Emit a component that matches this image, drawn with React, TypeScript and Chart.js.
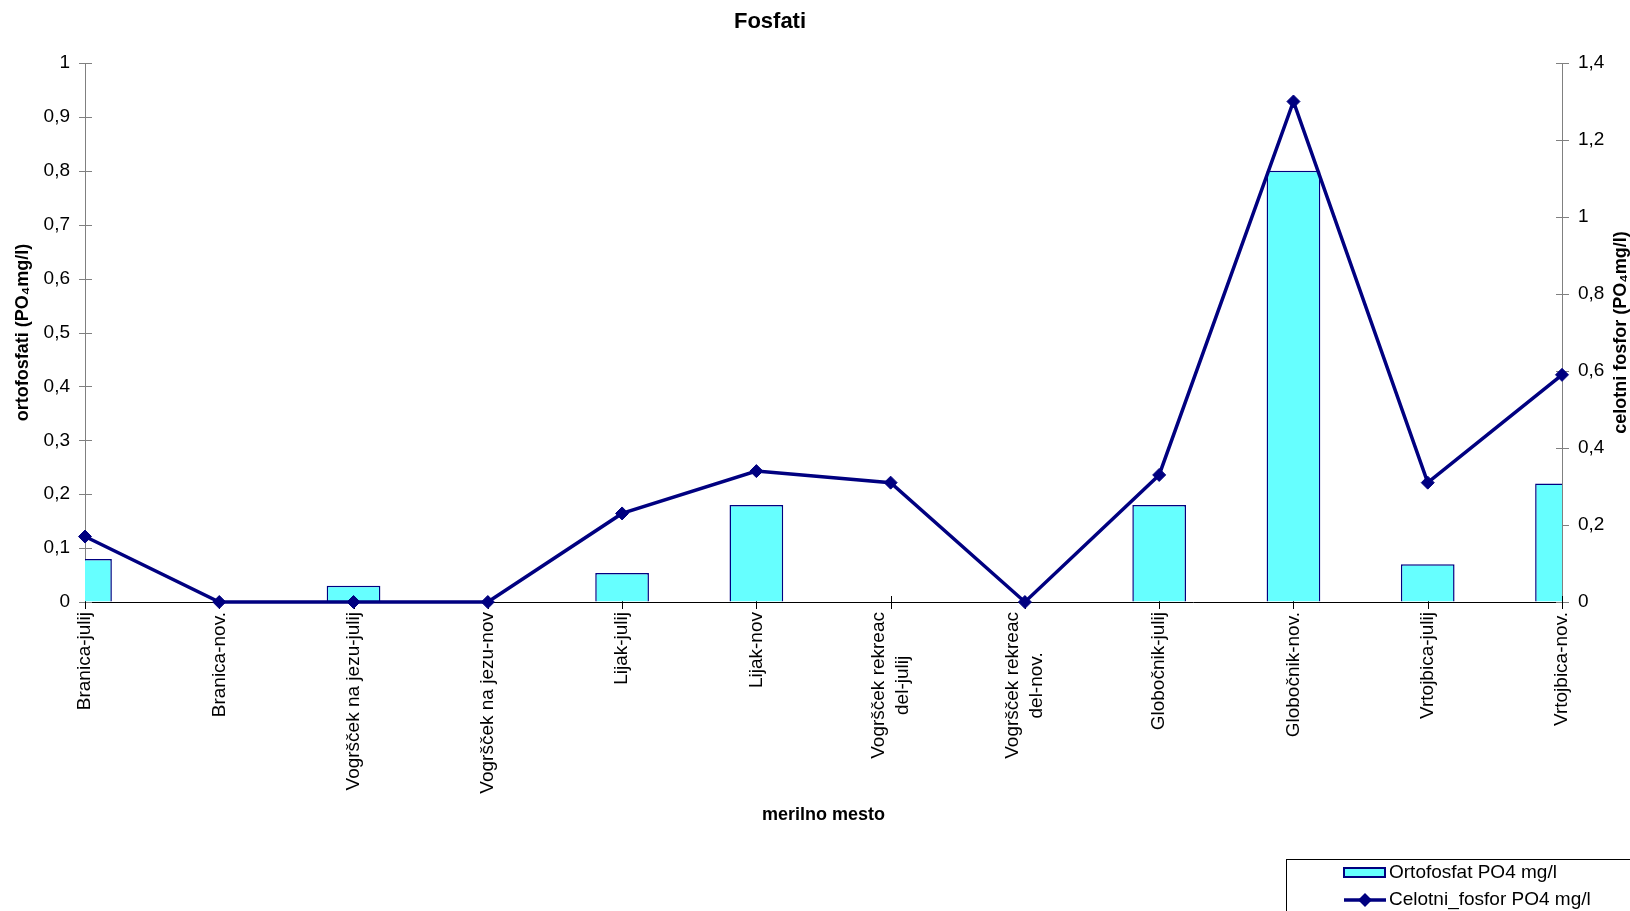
import React, { useEffect, useRef } from "react";
import { Chart, registerables } from "chart.js";

Chart.register(...registerables);

// ---------- data ----------
const categories: string[][] = [
  ["Branica-julij"],
  ["Branica-nov."],
  ["Vogršček na jezu-julij"],
  ["Vogršček na jezu-nov"],
  ["Lijak-julij"],
  ["Lijak-nov"],
  ["Vogršček rekreac", "del-julij"],
  ["Vogršček rekreac", "del-nov."],
  ["Globočnik-julij"],
  ["Globočnik-nov."],
  ["Vrtojbica-julij"],
  ["Vrtojbica-nov."],
];

const ortofosfat: number[] = [0.08, 0, 0.03, 0, 0.054, 0.18, 0, 0, 0.18, 0.8, 0.07, 0.22];
const celotniFosfor: number[] = [0.17, 0, 0, 0, 0.23, 0.34, 0.31, 0, 0.33, 1.3, 0.31, 0.59];

const seriesNames: string[] = ["Ortofosfat PO4 mg/l", "Celotni_fosfor PO4 mg/l"];
const leftAxisRange: number[] = [0, 1, 0.1]; // min, max, step
const rightAxisRange: number[] = [0, 1.4, 0.2];

const chartTitle = "Fosfati";
const xTitle = "merilno mesto";
const leftTitle = "ortofosfati (PO₄mg/l)";
const rightTitle = "celotni fosfor (PO₄mg/l)";

// ---------- styles ----------
const FONT = "'Liberation Sans', Arial, Helvetica, sans-serif";
const NAVY = "#000080";
const CYAN = "#66FFFF";
const GRAY = "#808080";

const fmt = (v: any) => {
  const n = Math.round(Number(v) * 10) / 10;
  return String(n).replace(".", ",");
};

const decorPlugin = {
  id: "decor",
  beforeDatasetsDraw(chart: any) {
    const { ctx, chartArea: a, scales } = chart;
    ctx.save();
    ctx.lineWidth = 1;
    // left axis cross ticks
    ctx.strokeStyle = GRAY;
    for (const t of scales.y.ticks) {
      const py = Math.round(scales.y.getPixelForValue(t.value)) + 0.5;
      ctx.beginPath();
      ctx.moveTo(a.left - 6, py);
      ctx.lineTo(a.left + 7, py);
      ctx.stroke();
    }
    for (const t of scales.y1.ticks) {
      const py = Math.round(scales.y1.getPixelForValue(t.value)) + 0.5;
      ctx.beginPath();
      ctx.moveTo(a.right - 6, py);
      ctx.lineTo(a.right + 7, py);
      ctx.stroke();
    }
    ctx.strokeStyle = "#000";
    const xs = scales.x;
    for (let i = 0; i < chart.data.labels.length; i++) {
      const px = Math.round(xs.getPixelForValue(i)) + 0.5;
      ctx.beginPath();
      ctx.moveTo(px, a.bottom - 6);
      ctx.lineTo(px, a.bottom + 7);
      ctx.stroke();
    }
    ctx.restore();
  },
  afterDraw(chart: any) {
    const { ctx, chartArea: a, scales } = chart;
    ctx.save();
    // chart title
    ctx.fillStyle = "#000";
    ctx.font = `bold 22px ${FONT}`;
    ctx.textAlign = "center";
    ctx.textBaseline = "middle";
    ctx.fillText(chartTitle, 770, 22);

    // category labels
    const xs = scales.x;
    ctx.font = `19px ${FONT}`;
    const lh = 24;
    chart.data.labels.forEach((lab: any, i: number) => {
      const lines: string[] = Array.isArray(lab) ? lab : [lab];
      const px = xs.getPixelForValue(i);
      const maxW = Math.max(...lines.map((l) => ctx.measureText(l).width));
      ctx.save();
      ctx.translate(px, a.bottom + 10);
      ctx.rotate(-Math.PI / 2);
      ctx.textAlign = "center";
      ctx.textBaseline = "middle";
      lines.forEach((l, k) => {
        const off = (k - (lines.length - 1) / 2) * lh;
        ctx.fillText(l, -maxW / 2, off);
      });
      ctx.restore();
    });

    // right axis title (reads bottom to top)
    ctx.save();
    ctx.font = `bold 18px ${FONT}`;
    ctx.translate(1621, (a.top + a.bottom) / 2);
    ctx.rotate(-Math.PI / 2);
    ctx.textAlign = "center";
    ctx.textBaseline = "middle";
    ctx.fillText(rightTitle, 0, 0);
    ctx.restore();

    // legend box
    const ds = chart.data.datasets;
    ctx.strokeStyle = "#000";
    ctx.lineWidth = 1;
    ctx.strokeRect(1286.5, 859.5, 500, 120);
    // item 1: bar swatch
    ctx.fillStyle = ds[0].backgroundColor;
    ctx.fillRect(1344, 868, 41, 9);
    ctx.strokeStyle = ds[0].borderColor;
    ctx.lineWidth = 2;
    ctx.strokeRect(1344, 868, 41, 9);
    ctx.fillStyle = "#000";
    ctx.font = `19px ${FONT}`;
    ctx.textAlign = "left";
    ctx.textBaseline = "middle";
    ctx.fillText(ds[0].label, 1389, 873);
    // item 2: line swatch
    ctx.strokeStyle = ds[1].borderColor;
    ctx.lineWidth = 3.5;
    ctx.beginPath();
    ctx.moveTo(1344, 900);
    ctx.lineTo(1386, 900);
    ctx.stroke();
    ctx.fillStyle = ds[1].pointBackgroundColor;
    const r = 7;
    ctx.beginPath();
    ctx.moveTo(1365 - r, 900);
    ctx.lineTo(1365, 900 - r);
    ctx.lineTo(1365 + r, 900);
    ctx.lineTo(1365, 900 + r);
    ctx.closePath();
    ctx.fill();
    ctx.fillStyle = "#000";
    ctx.fillText(ds[1].label, 1389, 900);
    ctx.restore();
  },
};

export default function App() {
  const canvasRef = useRef<HTMLCanvasElement | null>(null);

  useEffect(() => {
    if (!canvasRef.current) return;
    Chart.defaults.font.family = FONT;
    Chart.defaults.color = "#000";
    const chart = new Chart(canvasRef.current, {
      type: "bar",
      data: {
        labels: categories,
        datasets: [
          {
            type: "bar",
            label: seriesNames[0],
            data: ortofosfat,
            yAxisID: "y",
            backgroundColor: CYAN,
            borderColor: NAVY,
            borderWidth: 1.5,
            barPercentage: 0.4,
            categoryPercentage: 1,
            clip: 0,
            order: 1,
          } as any,
          {
            type: "line",
            label: seriesNames[1],
            data: celotniFosfor,
            yAxisID: "y1",
            borderColor: NAVY,
            backgroundColor: NAVY,
            borderWidth: 3.5,
            tension: 0,
            pointStyle: "rectRot",
            pointRadius: 6.5,
            pointBorderWidth: 1,
            pointBackgroundColor: NAVY,
            pointBorderColor: NAVY,
            clip: false,
            order: 0,
          } as any,
        ],
      },
      options: {
        responsive: false,
        maintainAspectRatio: false,
        animation: false,
        layout: { padding: { top: 63, left: 0, right: 0, bottom: 0 } },
        plugins: {
          legend: { display: false },
          title: { display: false },
          tooltip: { enabled: false },
        },
        scales: {
          x: {
            type: "category",
            offset: false,
            grid: { display: true, drawOnChartArea: false, drawTicks: false },
            border: { display: true, color: "#000", width: 1 },
            ticks: { display: false },
            title: {
              display: true,
              text: xTitle,
              color: "#000",
              font: { size: 18, weight: "bold", family: FONT },
              padding: { top: 0, bottom: 85 },
            },
            afterFit: (s: any) => {
              s.height = 309;
            },
          },
          y: {
            type: "linear",
            position: "left",
            min: leftAxisRange[0],
            max: leftAxisRange[1],
            grid: { display: true, drawOnChartArea: false, drawTicks: false },
            border: { display: true, color: GRAY, width: 1 },
            ticks: {
              stepSize: leftAxisRange[2],
              padding: 15,
              color: "#000",
              font: { size: 19, family: FONT },
              callback: fmt,
            },
            title: {
              display: true,
              text: leftTitle,
              color: "#000",
              font: { size: 18, weight: "bold", family: FONT },
              padding: { top: 12, bottom: 0 },
            },
            afterFit: (s: any) => {
              s.width = 85;
            },
          },
          y1: {
            type: "linear",
            position: "right",
            min: rightAxisRange[0],
            max: rightAxisRange[1],
            grid: { display: true, drawOnChartArea: false, drawTicks: false },
            border: { display: true, color: GRAY, width: 1 },
            ticks: {
              stepSize: rightAxisRange[2],
              padding: 16,
              color: "#000",
              font: { size: 19, family: FONT },
              callback: fmt,
            },
            title: { display: false },
            afterFit: (s: any) => {
              s.width = 68;
            },
          },
        },
      } as any,
      plugins: [decorPlugin],
    });
    return () => chart.destroy();
  }, []);

  return (
    <div
      style={{
        position: "fixed",
        left: 0,
        top: 0,
        width: 1630,
        height: 911,
        overflow: "hidden",
        background: "#fff",
      }}
    >
      <canvas ref={canvasRef} width={1630} height={911} style={{ width: 1630, height: 911, display: "block" }} />
    </div>
  );
}
